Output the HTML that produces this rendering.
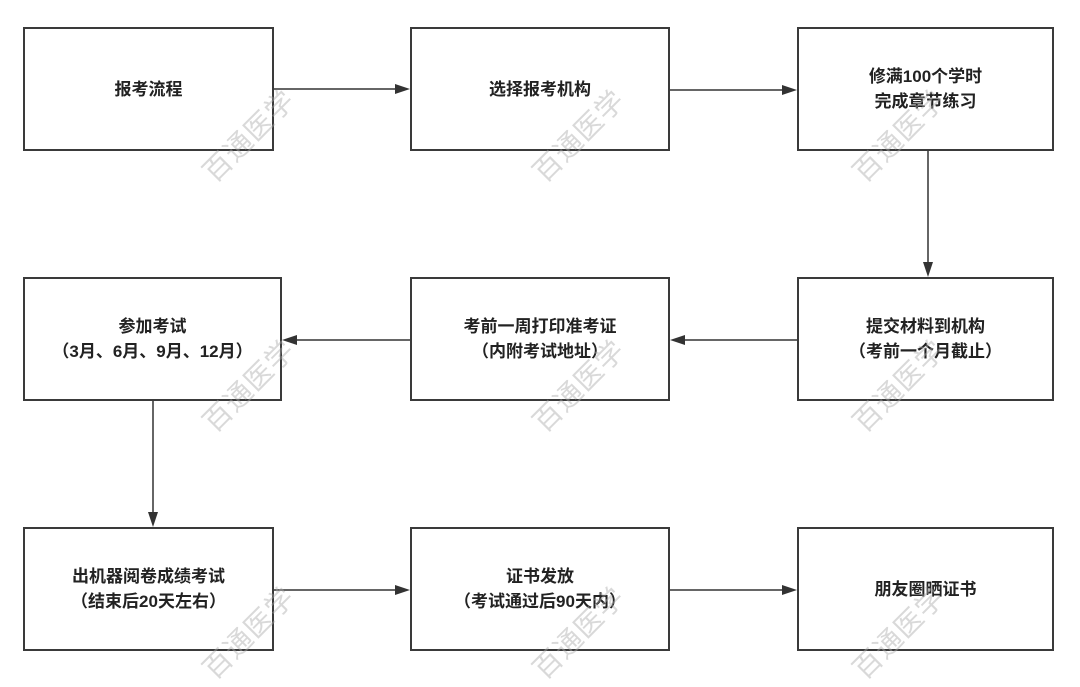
<!DOCTYPE html>
<html><head><meta charset="utf-8"><style>
html,body{margin:0;padding:0;background:#fff}
body{width:1080px;height:678px;position:relative;overflow:hidden;font-family:"Liberation Sans","Noto Sans CJK SC",sans-serif}
.b{position:absolute;border:2px solid #3a3a3a;box-sizing:border-box;display:flex;align-items:center;justify-content:center;text-align:center;font-weight:bold;font-size:17px;line-height:25px;color:#222;background:#fff}
.w{position:absolute;font-size:28px;color:rgba(170,170,170,0.45);transform:rotate(-45deg);white-space:nowrap;letter-spacing:1px}
svg{position:absolute;left:0;top:0}
</style></head><body>
<div class="b" style="left:23px;top:27px;width:251px;height:124px">报考流程</div>
<div class="b" style="left:410px;top:27px;width:260px;height:124px">选择报考机构</div>
<div class="b" style="left:797px;top:27px;width:257px;height:124px">修满100个学时<br>完成章节练习</div>
<div class="b" style="left:23px;top:277px;width:259px;height:124px">参加考试<br>（3月、6月、9月、12月）</div>
<div class="b" style="left:410px;top:277px;width:260px;height:124px">考前一周打印准考证<br>（内附考试地址）</div>
<div class="b" style="left:797px;top:277px;width:257px;height:124px">提交材料到机构<br>（考前一个月截止）</div>
<div class="b" style="left:23px;top:527px;width:251px;height:124px">出机器阅卷成绩考试<br>（结束后20天左右）</div>
<div class="b" style="left:410px;top:527px;width:260px;height:124px">证书发放<br>（考试通过后90天内）</div>
<div class="b" style="left:797px;top:527px;width:257px;height:124px">朋友圈晒证书</div>
<svg width="1080" height="678">
<g stroke="#333" stroke-width="1.5" fill="none">
<path d="M274 89H400"/><path d="M670 90H787"/>
<path d="M928 151V267"/>
<path d="M797 340H680"/><path d="M410 340H292"/>
<path d="M153 401V517"/>
<path d="M274 590H400"/><path d="M670 590H787"/>
</g>
<g fill="#333">
<path d="M410 89l-15-5v10z"/><path d="M797 90l-15-5v10z"/>
<path d="M928 277l-5-15h10z"/>
<path d="M670 340l15-5v10z"/><path d="M282 340l15-5v10z"/>
<path d="M153 527l-5-15h10z"/>
<path d="M410 590l-15-5v10z"/><path d="M797 590l-15-5v10z"/>
</g>
</svg>
<div class="w" style="left:190px;top:115px">百通医学</div>
<div class="w" style="left:520px;top:115px">百通医学</div>
<div class="w" style="left:840px;top:115px">百通医学</div>
<div class="w" style="left:190px;top:365px">百通医学</div>
<div class="w" style="left:520px;top:365px">百通医学</div>
<div class="w" style="left:840px;top:365px">百通医学</div>
<div class="w" style="left:190px;top:612px">百通医学</div>
<div class="w" style="left:520px;top:612px">百通医学</div>
<div class="w" style="left:840px;top:612px">百通医学</div>
</body></html>
